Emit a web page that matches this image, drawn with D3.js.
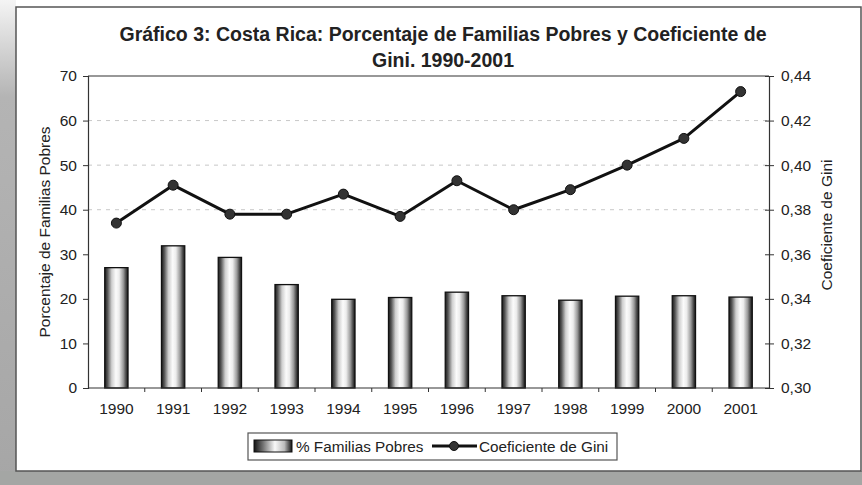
<!DOCTYPE html>
<html><head><meta charset="utf-8">
<script src="https://cdn.jsdelivr.net/npm/d3@7"></script>
<style>
html,body{margin:0;padding:0;background:#fff;}
svg{display:block;font-family:"Liberation Sans",Arial,sans-serif;}
</style></head>
<body>
<svg id="c" width="862" height="485"></svg>
<script>
const years = ["1990","1991","1992","1993","1994","1995","1996","1997","1998","1999","2000","2001"];
const pobres = [27.0, 31.9, 29.3, 23.2, 19.9, 20.3, 21.5, 20.7, 19.7, 20.6, 20.7, 20.4];
const gini = [0.374, 0.391, 0.378, 0.378, 0.387, 0.377, 0.393, 0.380, 0.389, 0.400, 0.412, 0.433];
const leftTicks = [0,10,20,30,40,50,60,70];
const rightTicks = [0.30,0.32,0.34,0.36,0.38,0.40,0.42,0.44];
const gridTicks = [40,50,60];
const titleLines = ["Gráfico 3: Costa Rica: Porcentaje de Familias Pobres y Coeficiente de","Gini. 1990-2001"];
const yLeftTitle = "Porcentaje de Familias Pobres";
const yRightTitle = "Coeficiente de Gini";
const legendLabels = ["% Familias Pobres","Coeficiente de Gini"];

const svg = d3.select("#c");
const defs = svg.append("defs");

// scan background
const bg = defs.append("linearGradient").attr("id","lstrip").attr("x1",0).attr("y1",0).attr("x2",0).attr("y2",1);
bg.append("stop").attr("offset","0%").attr("stop-color","#f4f4f4");
bg.append("stop").attr("offset","20%").attr("stop-color","#b4b4b4");
bg.append("stop").attr("offset","100%").attr("stop-color","#a6a6a6");
svg.append("rect").attr("x",0).attr("y",0).attr("width",862).attr("height",485).attr("fill","#fff");
svg.append("rect").attr("x",0).attr("y",0).attr("width",16).attr("height",485).attr("fill","url(#lstrip)");
svg.append("rect").attr("x",0).attr("y",471).attr("width",862).attr("height",14).attr("fill","#a4a6a4");
svg.append("rect").attr("x",16).attr("y",7).attr("width",845).attr("height",464)
  .attr("fill","#fff").attr("stroke","#555").attr("stroke-width",1.5);

// bar gradient (cylinder look)
const g = defs.append("linearGradient").attr("id","cyl").attr("x1",0).attr("x2",1).attr("y1",0).attr("y2",0);
[["0%","#1a1a1a"],["12%","#555"],["30%","#cfcfcf"],["48%","#fbfbfb"],["62%","#ececec"],["80%","#9a9a9a"],["92%","#444"],["100%","#1a1a1a"]]
  .forEach(([o,c])=>g.append("stop").attr("offset",o).attr("stop-color",c));

const L=88, R=769, T=76, B=388;
const x = d3.scaleBand().domain(years).range([L,R]).padding(0);
const yL = d3.scaleLinear().domain([0,70]).range([B,T]);
const yR = d3.scaleLinear().domain([0.30,0.44]).range([B,T]);

// title
svg.append("g").selectAll("text").data(titleLines).join("text")
  .attr("x",443).attr("y",(d,i)=>41+i*26).attr("text-anchor","middle")
  .attr("font-size",19.5).attr("font-weight","bold").attr("fill","#222").text(d=>d);

// grid
svg.append("g").selectAll("line").data(gridTicks).join("line")
  .attr("x1",L).attr("x2",R).attr("y1",d=>yL(d)).attr("y2",d=>yL(d))
  .attr("stroke","#c8c8c8").attr("stroke-width",1).attr("stroke-dasharray","4,5");

// bars
const bw = x.bandwidth()*0.41;
svg.append("g").selectAll("rect").data(pobres).join("rect")
  .attr("x",(d,i)=>x(years[i])+x.bandwidth()/2-bw/2)
  .attr("y",d=>yL(d)).attr("width",bw).attr("height",d=>B-yL(d))
  .attr("fill","url(#cyl)").attr("stroke","#111").attr("stroke-width",1.3);

// plot frame top
svg.append("line").attr("x1",L).attr("x2",R).attr("y1",T).attr("y2",T).attr("stroke","#333").attr("stroke-width",1.2);

// axes
const axL = svg.append("g").attr("transform",`translate(${L},0)`)
  .call(d3.axisLeft(yL).tickValues(leftTicks).tickSize(5).tickPadding(6).tickFormat(d3.format("d")));
const axR = svg.append("g").attr("transform",`translate(${R},0)`)
  .call(d3.axisRight(yR).tickValues(rightTicks).tickSize(5).tickPadding(7).tickFormat(d=>d3.format(".2f")(d).replace(".",",")));
axR.selectAll(".tick line").attr("x1",-4);
const axB = svg.append("g").attr("transform",`translate(0,${B})`)
  .call(d3.axisBottom(x).tickSize(0).tickPadding(15));
// category boundary ticks
svg.append("g").selectAll("line").data(years.slice(1)).join("line")
  .attr("x1",d=>x(d)).attr("x2",d=>x(d)).attr("y1",B).attr("y2",B+4).attr("stroke","#333");
[axL,axR,axB].forEach(a=>{
  a.select(".domain").attr("stroke","#333").attr("stroke-width",1.2);
  a.selectAll(".tick line").attr("stroke","#333");
  a.selectAll("text").attr("font-size",15.5).attr("fill","#222").attr("font-family","Liberation Sans, Arial, sans-serif");
});
axB.select(".domain").attr("d",`M${L},0H${R}`);

// axis titles
svg.append("text").attr("transform","translate(50,232) rotate(-90)").attr("text-anchor","middle")
  .attr("font-size",15.5).attr("fill","#222").text(yLeftTitle);
svg.append("text").attr("transform","translate(832,225) rotate(-90)").attr("text-anchor","middle")
  .attr("font-size",15.5).attr("fill","#222").text(yRightTitle);

// line
const line = d3.line().x((d,i)=>x(years[i])+x.bandwidth()/2).y(d=>yR(d));
svg.append("path").datum(gini).attr("d",line).attr("fill","none").attr("stroke","#111").attr("stroke-width",3).attr("stroke-linejoin","round");
svg.append("g").selectAll("circle").data(gini).join("circle")
  .attr("cx",(d,i)=>x(years[i])+x.bandwidth()/2).attr("cy",d=>yR(d)).attr("r",5)
  .attr("fill","#333").attr("stroke","#111").attr("stroke-width",1);

// legend
const lg = svg.append("g");
lg.append("rect").attr("x",248).attr("y",433).attr("width",369).attr("height",27).attr("fill","#fff").attr("stroke","#555").attr("stroke-width",1.2);
const lgr = defs.append("linearGradient").attr("id","lcyl").attr("x1",0).attr("x2",1).attr("y1",0).attr("y2",0);
[["0%","#111"],["25%","#777"],["55%","#f8f8f8"],["80%","#bbb"],["100%","#111"]].forEach(([o,c])=>lgr.append("stop").attr("offset",o).attr("stop-color",c));
lg.append("rect").attr("x",254).attr("y",440).attr("width",38).attr("height",12).attr("fill","url(#lcyl)").attr("stroke","#111");
lg.append("text").attr("x",296).attr("y",452).attr("font-size",15.3).attr("fill","#222").text(legendLabels[0]);
lg.append("line").attr("x1",432).attr("x2",477).attr("y1",446).attr("y2",446).attr("stroke","#111").attr("stroke-width",3);
lg.append("circle").attr("cx",454).attr("cy",446).attr("r",4.5).attr("fill","#333").attr("stroke","#111");
lg.append("text").attr("x",479).attr("y",452).attr("font-size",15.3).attr("fill","#222").text(legendLabels[1]);
</script>
</body></html>
